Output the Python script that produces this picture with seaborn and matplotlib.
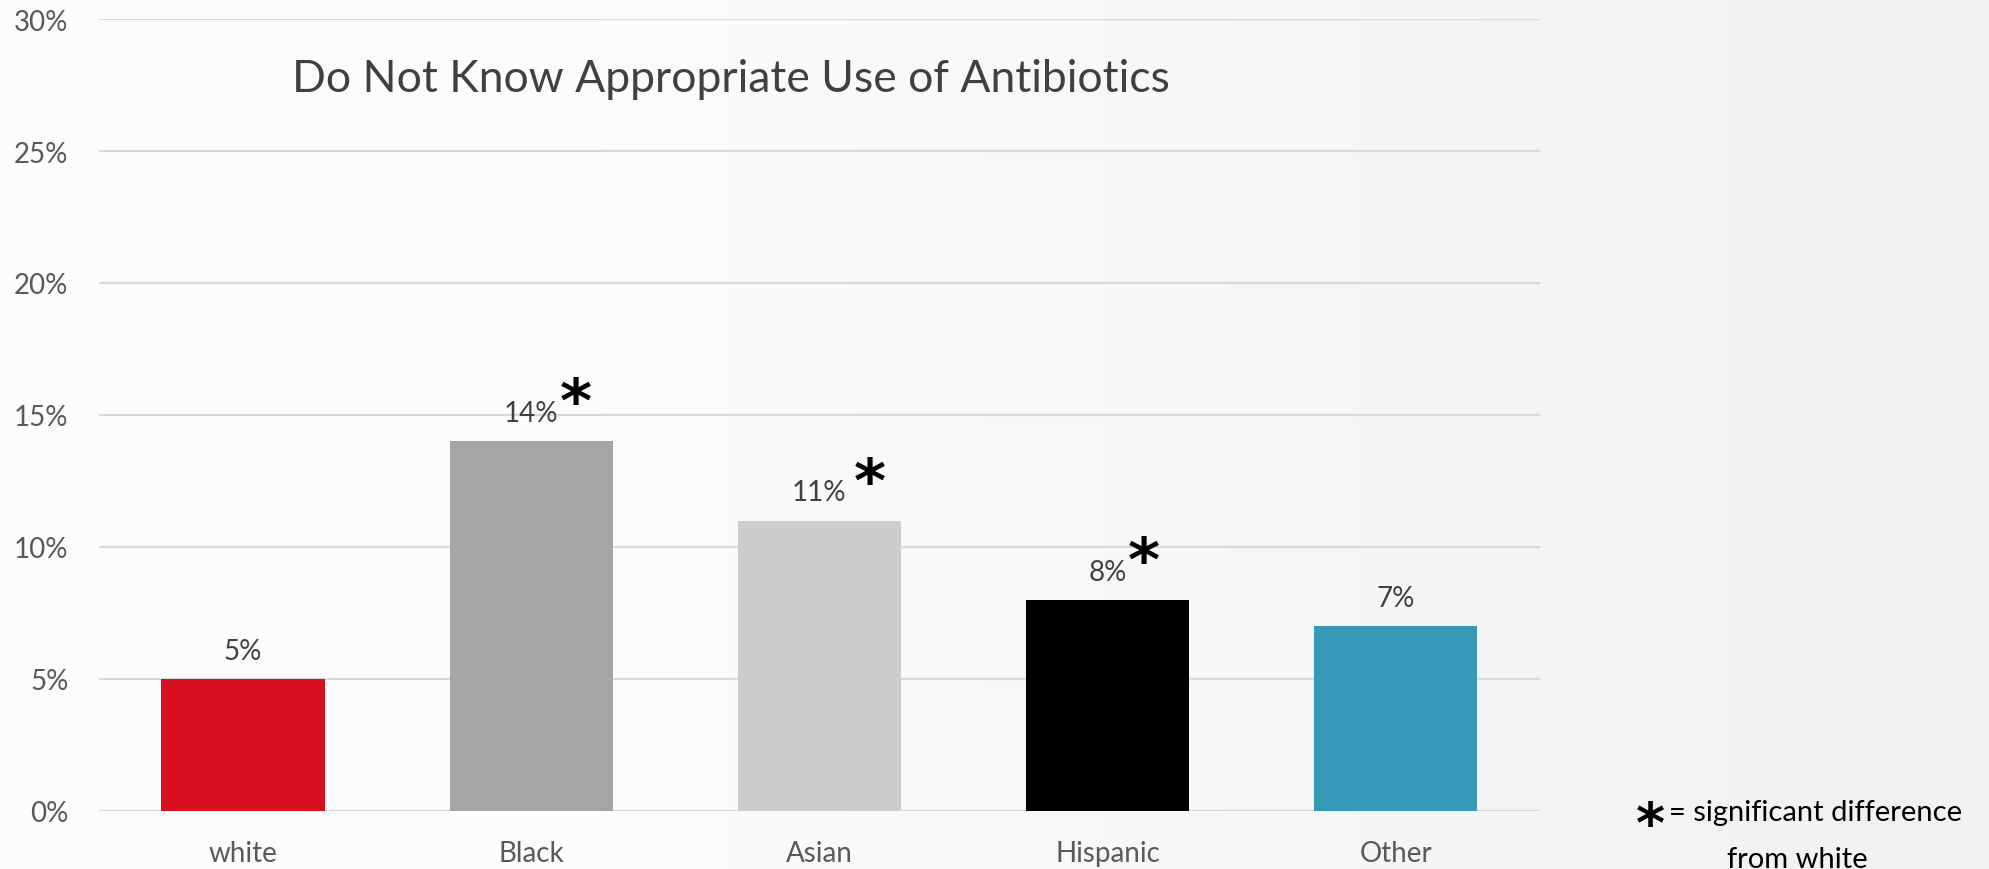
import numpy as np
import matplotlib.pyplot as plt
import pandas as pd
import seaborn as sns
from matplotlib.colors import LinearSegmentedColormap

sns.set_style("white")
plt.rcParams['font.family'] = ['Lato', 'DejaVu Sans']

groups = ["white", "Black", "Asian", "Hispanic", "Other"]
pct = [5, 14, 11, 8, 7]
significant = [False, True, True, True, False]
bar_colors = ["#D80F21", "#A5A5A5", "#CDCDCB", "#000000", "#3799B8"]

df = pd.DataFrame({"group": groups, "pct": pct})

fig = plt.figure(figsize=(19.9, 8.7), dpi=100)

# soft grey background gradient (white-ish left, light grey right)
bg = fig.add_axes([0, 0, 1, 1], zorder=-10)
xx = np.linspace(0, 1, 400)
grad = np.clip((xx - 0.3) / 0.7, 0, 1)
cmap = LinearSegmentedColormap.from_list("bg", ["#FCFCFC", "#F1F1F1"])
bg.imshow(np.tile(grad, (20, 1)), cmap=cmap, aspect="auto",
          extent=[0, 1, 0, 1], vmin=0, vmax=1)
bg.set_xlim(0, 1)
bg.set_ylim(0, 1)
bg.axis("off")

ax = fig.add_axes([0.0497, 0.0667, 0.7241, 0.9103])
ax.patch.set_alpha(0)

sns.barplot(data=df, x="group", y="pct", order=groups, hue="group",
            palette=bar_colors, width=0.566, saturation=1, legend=False,
            linewidth=0, ax=ax)

ax.set_ylim(0, 30)
ax.set_xlim(-0.5, 4.5)
ax.set_yticks(range(0, 31, 5))
ax.set_yticklabels(["{}%".format(v) for v in range(0, 31, 5)])
ax.yaxis.grid(True, color="#D9D9D9", linewidth=1.6)
ax.set_axisbelow(True)
sns.despine(ax=ax, left=True, bottom=True)
ax.tick_params(axis="both", length=0, labelsize=20, colors="#595959")
ax.tick_params(axis="y", pad=22)
ax.tick_params(axis="x", pad=21)
ax.set_xlabel("")
ax.set_ylabel("")

star_dx = [0, 45, 50, 36, 0]
for i, (v, sig) in enumerate(zip(pct, significant)):
    ax.annotate("{}%".format(v), (i, v), xytext=(0, 11), textcoords="offset points",
                ha="center", va="bottom", fontsize=20, color="#404040")
    if sig:
        ax.annotate("*", (i, v), xytext=(star_dx[i] * 0.72, 5), textcoords="offset points",
                    ha="center", va="bottom", fontsize=44, fontweight="bold",
                    color="black", family="DejaVu Sans")

ax.text(0.134, 0.925, "Do Not Know Appropriate Use of Antibiotics",
        transform=ax.transAxes, ha="left", va="center", fontsize=32, color="#404040")

fig.text(0.8295, 0.049, "*", ha="center", va="center", fontsize=40,
         fontweight="bold", family="DejaVu Sans", color="black")
fig.text(0.8385, 0.066, "= significant difference", ha="left", va="center",
         fontsize=21, color="black")
fig.text(0.903, 0.012, "from white", ha="center", va="center",
         fontsize=21, color="black")

plt.savefig("out.png", dpi=100)
